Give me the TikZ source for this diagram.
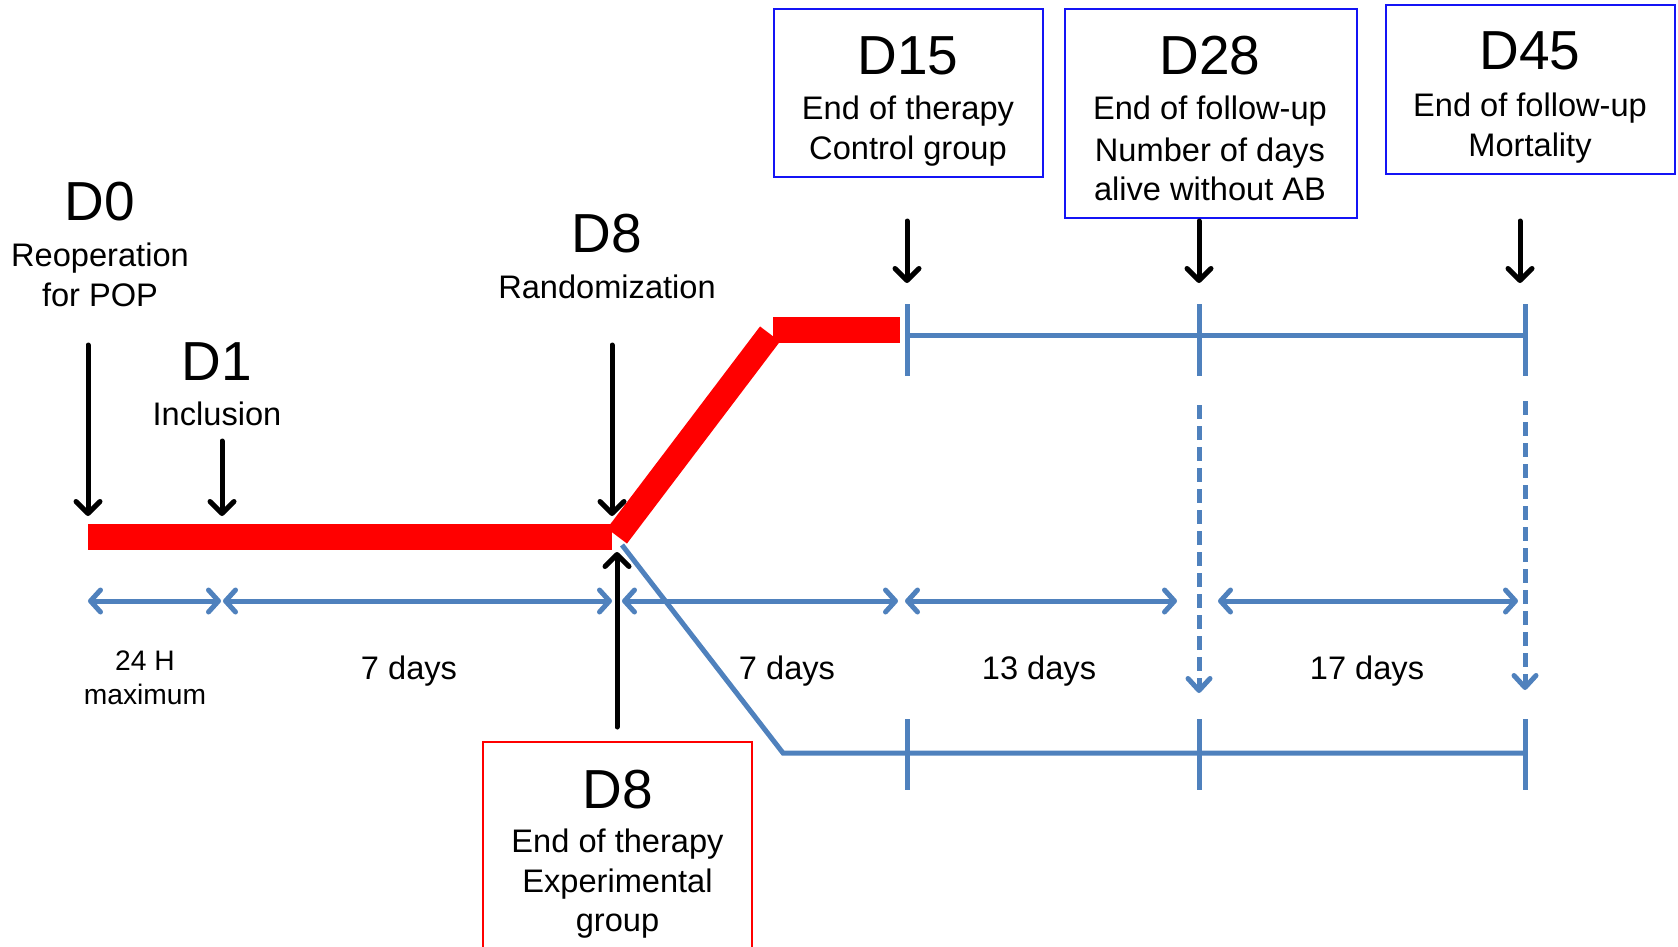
\documentclass[tikz,border=0pt]{standalone}
\usepackage{fontspec}
\setmainfont{Liberation Sans}
\usetikzlibrary{arrows.meta}
\definecolor{tlblue}{RGB}{79,129,189}
\definecolor{boxblue}{RGB}{20,20,245}
\definecolor{tlred}{RGB}{255,0,0}
\begin{document}
\begin{tikzpicture}[x=1pt,y=-1pt,
  bigtxt/.style={anchor=base,inner sep=0pt,font=\fontsize{55}{60}\selectfont},
  txt/.style={anchor=base,inner sep=0pt,font=\fontsize{32.6}{38}\selectfont},
  smalltxt/.style={anchor=base,inner sep=0pt,font=\fontsize{28.2}{34}\selectfont},
  bluebox/.style={draw=boxblue,line width=2.5pt,inner sep=0pt},
  redbox/.style={draw=tlred,line width=2pt,inner sep=0pt},
  blackarrow/.style={line width=5pt,line cap=round,-{Straight Barb[length=12pt,width=24pt,round]}},
  dspan/.style={tlblue,line width=5pt,{Straight Barb[length=10pt,width=22pt,round]}-{Straight Barb[length=10pt,width=22pt,round]}},
  dashedarrow/.style={tlblue,line width=5pt,dash pattern=on 14pt off 7pt,-{Straight Barb[length=12pt,width=22pt,round]}},
  bline/.style={tlblue,line width=5pt},
  redbar/.style={tlred,line width=26pt},
  reddiag/.style={tlred,line width=25pt}
]
\useasboundingbox (0,0) rectangle (1678,947);

% ---- red therapy path ----
\coordinate (r0) at (88,537);
\coordinate (r1) at (612,537);
\coordinate (r2) at (617,536);
\coordinate (r3) at (770,334);
\coordinate (r4) at (773,330);
\coordinate (r5) at (900,330);
\draw[redbar] (r0) -- (r1);
\draw[reddiag] (r2) -- (r3);
\draw[redbar] (r4) -- (r5);

% ---- blue upper (control) line ----
\coordinate (u0) at (907,335);
\coordinate (u1) at (1199,335);
\coordinate (u2) at (1525,335);
\draw[bline] (u0) -- (u2);
\foreach \x/\n in {907/ut0,1199/ut1,1525/ut2}{
  \coordinate (\n a) at (\x,304);
  \coordinate (\n b) at (\x,376);
  \draw[bline] (\n a) -- (\n b);
}

% ---- blue lower (experimental) line ----
\coordinate (l0) at (622,545);
\coordinate (l1) at (783,753);
\coordinate (l2) at (1525,753);
\draw[bline] (l0) -- (l1) -- (l2);
\foreach \x/\n in {907/lt0,1199/lt1,1525/lt2}{
  \coordinate (\n a) at (\x,719);
  \coordinate (\n b) at (\x,790);
  \draw[bline] (\n a) -- (\n b);
}

% ---- dashed arrows ----
\coordinate (d1a) at (1199,405);
\coordinate (d1b) at (1199,693);
\coordinate (d2a) at (1525,401);
\coordinate (d2b) at (1525,690);
\draw[dashedarrow] (d1a) -- (d1b);
\draw[dashedarrow] (d2a) -- (d2b);

% ---- duration spans ----
\coordinate (s0) at (88,601);
\coordinate (s1) at (221,601);
\coordinate (s2) at (223,601);
\coordinate (s3) at (612,601);
\coordinate (s4) at (622,601);
\coordinate (s5) at (898,601);
\coordinate (s6) at (905,601);
\coordinate (s7) at (1177,601);
\coordinate (s8) at (1218,601);
\coordinate (s9) at (1518,601);
\draw[dspan] (s0) -- (s1);
\draw[dspan] (s2) -- (s3);
\draw[dspan] (s4) -- (s5);
\draw[dspan] (s6) -- (s7);
\draw[dspan] (s8) -- (s9);

\node[smalltxt] (h24) at (145,670) {24 H};
\node[smalltxt] (hmax) at (145,704) {maximum};
\node[txt] (days7a) at (409,679) {7 days};
\node[txt] (days7b) at (787,679) {7 days};
\node[txt] (days13) at (1039,679) {13 days};
\node[txt] (days17) at (1367,679) {17 days};

% ---- D0 ----
\node[bigtxt] (d0) at (100,220) {D0};
\node[txt] (d0a) at (100,266) {Reoperation};
\node[txt] (d0b) at (100,306) {for POP};
\coordinate (a0s) at (88,345);
\coordinate (a0e) at (88,516);
\draw[blackarrow] (a0s) -- (a0e);

% ---- D1 ----
\node[bigtxt] (d1) at (217,380) {D1};
\node[txt] (d1a) at (217,425) {Inclusion};
\coordinate (a1s) at (222,441);
\coordinate (a1e) at (222,516);
\draw[blackarrow] (a1s) -- (a1e);

% ---- D8 randomization ----
\node[bigtxt] (d8) at (607,252) {D8};
\node[txt] (d8a) at (607,298) {Randomization};
\coordinate (a8s) at (612,345);
\coordinate (a8e) at (612,516);
\draw[blackarrow] (a8s) -- (a8e);

% ---- D8 end of therapy, experimental ----
\node[redbox,minimum width=269pt,minimum height=260pt] (box8) at (617.5,872) {};
\node[bigtxt] (e8) at (617.5,808) {D8};
\node[txt] (e8a) at (617.5,852) {End of therapy};
\node[txt] (e8b) at (617.5,892) {Experimental};
\node[txt] (e8c) at (617.5,931) {group};
\coordinate (ae8s) at (617,727);
\coordinate (ae8e) at (617,552);
\draw[blackarrow] (ae8s) -- (ae8e);

% ---- D15 ----
\node[bluebox,minimum width=269pt,minimum height=168pt] (box15) at (908.5,93) {};
\node[bigtxt] (d15) at (908,75) {D15};
\node[txt] (d15a) at (908,120) {End of therapy};
\node[txt] (d15b) at (908,160) {Control group};
\coordinate (a15s) at (907,221);
\coordinate (a15e) at (907,283);
\draw[blackarrow] (a15s) -- (a15e);

% ---- D28 ----
\node[bluebox,minimum width=292pt,minimum height=209pt] (box28) at (1211,113.5) {};
\node[bigtxt] (d28) at (1210,75) {D28};
\node[txt] (d28a) at (1210,120) {End of follow-up};
\node[txt] (d28b) at (1210,161) {Number of days};
\node[txt] (d28c) at (1210,200) {alive without AB};
\coordinate (a28s) at (1199,221);
\coordinate (a28e) at (1199,283);
\draw[blackarrow] (a28s) -- (a28e);

% ---- D45 ----
\node[bluebox,minimum width=289pt,minimum height=169pt] (box45) at (1530.5,89.5) {};
\node[bigtxt] (d45) at (1530,70) {D45};
\node[txt] (d45a) at (1530,117) {End of follow-up};
\node[txt] (d45b) at (1530,157) {Mortality};
\coordinate (a45s) at (1520,221);
\coordinate (a45e) at (1520,283);
\draw[blackarrow] (a45s) -- (a45e);
\end{tikzpicture}
\end{document}
